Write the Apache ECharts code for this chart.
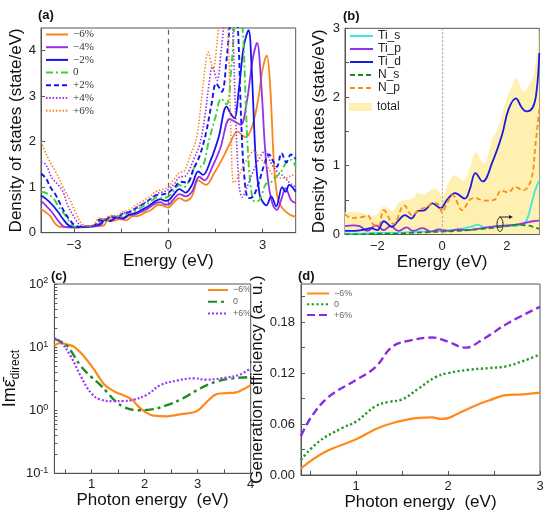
<!DOCTYPE html>
<html>
<head>
<meta charset="utf-8">
<script src="https://cdn.jsdelivr.net/npm/echarts@6/dist/echarts.min.js"></script>
<style>
html, body { margin: 0; padding: 0; background: #fff; }
#chart { width: 550px; height: 519px; }
</style>
</head>
<body>
<div id="chart"></div>
<script>
// (a) total DOS under strain, [energy, dos]
const aM6 = [[-4.05,0.52],[-3.9,0.45],[-3.75,0.36],[-3.6,0.2],[-3.45,0.13],[-3.2,0.12],[-2.9,0.12],[-2.6,0.13],[-2.3,0.14],[-2.05,0.16],[-1.9,0.33],[-1.75,0.26],[-1.55,0.3],[-1.35,0.27],[-1.15,0.36],[-0.95,0.37],[-0.75,0.44],[-0.55,0.5],[-0.3,0.62],[-0.15,0.59],[0,0.55],[0.15,0.65],[0.35,0.76],[0.55,0.7],[0.75,0.8],[0.95,1.15],[1.2,1.05],[1.45,1.3],[1.7,1.6],[1.95,1.95],[2.2,2.22],[2.45,2.1],[2.65,2.3],[2.85,2.9],[3.0,3.6],[3.13,3.9],[3.24,3.2],[3.36,1.5],[3.48,0.75],[3.65,0.52],[3.85,0.4],[4.05,0.35]];
const aM4 = [[-4.05,0.7],[-3.9,0.6],[-3.7,0.45],[-3.5,0.26],[-3.3,0.13],[-3.0,0.12],[-2.7,0.13],[-2.4,0.14],[-2.15,0.17],[-2.0,0.3],[-1.85,0.25],[-1.65,0.33],[-1.45,0.3],[-1.25,0.38],[-1.05,0.4],[-0.85,0.46],[-0.65,0.53],[-0.4,0.65],[-0.25,0.67],[-0.1,0.62],[0,0.62],[0.15,0.72],[0.35,0.85],[0.55,0.8],[0.75,0.9],[0.98,1.23],[1.15,1.15],[1.4,1.45],[1.65,1.85],[1.95,2.5],[2.1,2.45],[2.3,2.37],[2.5,2.9],[2.68,3.8],[2.82,4.17],[2.95,3.3],[3.08,1.8],[3.2,1.0],[3.32,0.62],[3.45,0.5],[3.6,0.75],[3.73,0.98],[3.9,0.72],[4.05,0.65]];
const aM2 = [[-4.05,0.82],[-3.9,0.75],[-3.7,0.62],[-3.5,0.45],[-3.35,0.3],[-3.15,0.15],[-2.9,0.12],[-2.6,0.13],[-2.35,0.15],[-2.15,0.2],[-2.0,0.3],[-1.85,0.26],[-1.65,0.34],[-1.45,0.32],[-1.25,0.4],[-1.05,0.43],[-0.85,0.5],[-0.6,0.6],[-0.4,0.7],[-0.25,0.74],[-0.1,0.7],[0,0.71],[0.15,0.82],[0.35,0.96],[0.55,0.88],[0.75,1.05],[0.95,1.35],[1.1,1.27],[1.35,1.6],[1.6,2.1],[1.85,2.77],[2.0,2.6],[2.1,2.52],[2.25,3.2],[2.4,4.1],[2.55,4.45],[2.65,3.6],[2.78,1.6],[2.9,0.85],[3.0,0.68],[3.12,0.6],[3.27,0.8],[3.43,0.58],[3.62,1.0],[3.73,0.9],[3.84,1.05],[4.05,0.9]];
const aZ = [[-4.05,0.9],[-3.85,0.86],[-3.65,0.75],[-3.5,0.58],[-3.3,0.4],[-3.15,0.25],[-3.0,0.14],[-2.7,0.12],[-2.45,0.14],[-2.25,0.2],[-2.1,0.3],[-1.95,0.27],[-1.75,0.36],[-1.55,0.34],[-1.35,0.42],[-1.15,0.45],[-0.95,0.52],[-0.7,0.62],[-0.5,0.72],[-0.35,0.78],[-0.2,0.76],[0,0.8],[0.15,0.9],[0.35,1.05],[0.5,1.0],[0.7,1.2],[0.9,1.5],[1.05,1.45],[1.3,2.05],[1.5,2.55],[1.68,2.95],[1.85,2.82],[2.0,3.6],[2.12,4.7],[2.25,5.3],[2.38,4.3],[2.5,2.2],[2.62,1.0],[2.75,0.68],[2.9,0.72],[3.1,1.07],[3.25,1.1],[3.41,1.23],[3.55,1.3],[3.73,1.52],[3.9,1.6],[4.05,1.45]];
const aP2 = [[-4.05,1.3],[-3.9,1.2],[-3.75,1.0],[-3.6,0.85],[-3.45,0.65],[-3.3,0.45],[-3.1,0.25],[-2.9,0.14],[-2.6,0.13],[-2.35,0.16],[-2.2,0.28],[-2.05,0.25],[-1.85,0.35],[-1.65,0.33],[-1.45,0.42],[-1.25,0.45],[-1.05,0.53],[-0.8,0.63],[-0.55,0.75],[-0.4,0.82],[-0.2,0.84],[0,0.88],[0.2,1.0],[0.4,1.12],[0.6,1.1],[0.8,1.4],[1.0,1.7],[1.2,2.2],[1.38,2.85],[1.52,3.28],[1.7,3.1],[1.85,3.8],[1.97,4.7],[2.1,5.5],[2.22,4.4],[2.32,2.4],[2.42,1.2],[2.55,0.76],[2.7,0.8],[2.9,1.15],[3.05,1.5],[3.2,1.72],[3.35,1.55],[3.45,1.45],[3.6,1.75],[3.75,1.55],[3.9,1.72],[4.05,1.62]];
const aP4 = [[-4.05,1.55],[-3.9,1.5],[-3.7,1.2],[-3.5,1.05],[-3.35,0.9],[-3.2,0.6],[-3.0,0.35],[-2.8,0.17],[-2.5,0.14],[-2.3,0.18],[-2.15,0.3],[-2.0,0.27],[-1.8,0.36],[-1.6,0.35],[-1.4,0.44],[-1.2,0.47],[-1.0,0.56],[-0.75,0.66],[-0.5,0.78],[-0.35,0.86],[-0.15,0.9],[0,0.95],[0.2,1.08],[0.35,1.22],[0.55,1.25],[0.8,1.6],[1.0,1.95],[1.15,2.5],[1.3,3.3],[1.4,3.65],[1.55,3.35],[1.68,4.0],[1.8,4.8],[1.93,5.6],[2.05,4.4],[2.15,2.4],[2.25,1.05],[2.35,0.78],[2.5,1.0],[2.7,1.35],[2.9,1.65],[3.08,1.8],[3.25,1.55],[3.45,1.35],[3.65,1.25],[3.85,1.1],[4.05,1.0]];
const aP6 = [[-4.05,2.0],[-3.9,1.75],[-3.72,1.5],[-3.55,1.3],[-3.35,1.0],[-3.15,0.75],[-2.95,0.45],[-2.75,0.2],[-2.5,0.15],[-2.35,0.2],[-2.2,0.32],[-2.05,0.29],[-1.85,0.38],[-1.65,0.37],[-1.45,0.46],[-1.25,0.5],[-1.05,0.6],[-0.8,0.7],[-0.55,0.82],[-0.4,0.9],[-0.2,0.95],[0,1.0],[0.15,1.15],[0.35,1.32],[0.5,1.35],[0.7,1.7],[0.9,2.1],[1.05,2.9],[1.18,3.7],[1.26,3.97],[1.42,3.6],[1.55,4.2],[1.68,5.2],[1.82,5.6],[1.92,4.0],[2.0,2.0],[2.08,1.1],[2.2,1.2],[2.4,1.5],[2.55,1.65],[2.72,1.81],[2.9,1.65],[3.1,1.5],[3.4,1.23],[3.7,1.2],[3.9,1.25],[4.05,1.3]];
const aLabels = ['−6%', '−4%', '−2%', '0', '+2%', '+4%', '+6%'];

// (b) projected DOS
const bTiS = [[-3.0,0.01],[-2.5,0.01],[-2.0,0.02],[-1.5,0.02],[-1.0,0.03],[-0.5,0.04],[0,0.05],[0.3,0.06],[0.6,0.08],[0.9,0.11],[1.1,0.14],[1.3,0.1],[1.6,0.11],[1.9,0.12],[2.2,0.12],[2.45,0.14],[2.55,0.16],[2.65,0.25],[2.78,0.48],[2.9,0.68],[3.0,0.78]];
const bTiP = [[-3.0,0.12],[-2.75,0.13],[-2.55,0.12],[-2.3,0.05],[-2.05,0.13],[-1.8,0.06],[-1.6,0.12],[-1.35,0.05],[-1.1,0.1],[-0.9,0.05],[-0.6,0.09],[-0.35,0.04],[-0.1,0.07],[0.2,0.05],[0.5,0.07],[0.8,0.06],[1.1,0.08],[1.4,0.1],[1.7,0.12],[2.0,0.13],[2.3,0.14],[2.6,0.17],[2.8,0.19],[3.0,0.2]];
const bTiD = [[-3.0,0.05],[-2.7,0.05],[-2.4,0.07],[-2.2,0.09],[-2.0,0.06],[-1.8,0.19],[-1.55,0.11],[-1.35,0.2],[-1.15,0.28],[-0.95,0.23],[-0.75,0.34],[-0.55,0.35],[-0.3,0.45],[-0.05,0.38],[0.15,0.5],[0.4,0.6],[0.7,0.52],[0.85,0.65],[1.03,0.89],[1.25,0.77],[1.55,1.05],[1.85,1.45],[2.05,1.82],[2.28,1.98],[2.45,1.85],[2.6,1.79],[2.8,1.85],[2.92,2.1],[3.0,2.64]];
const bNS = [[-3.0,0.0],[-2.5,0.0],[-2.0,0.01],[-1.5,0.01],[-1.0,0.02],[-0.5,0.03],[0,0.04],[0.5,0.05],[1.0,0.07],[1.5,0.09],[2.0,0.12],[2.3,0.14],[2.6,0.13],[2.8,0.11],[3.0,0.08]];
const bNP = [[-3.0,0.29],[-2.8,0.24],[-2.5,0.25],[-2.3,0.27],[-2.12,0.14],[-1.98,0.12],[-1.8,0.35],[-1.5,0.15],[-1.17,0.42],[-0.93,0.28],[-0.7,0.36],[-0.45,0.4],[-0.3,0.46],[-0.1,0.43],[0,0.32],[0.15,0.45],[0.32,0.57],[0.62,0.35],[0.85,0.5],[1.0,0.53],[1.3,0.49],[1.6,0.5],[1.83,0.64],[2.04,0.61],[2.25,0.69],[2.5,0.64],[2.75,0.8],[2.88,1.3],[3.0,1.82]];
const bTotal = [[-3.0,0.32],[-2.7,0.33],[-2.4,0.3],[-2.2,0.26],[-2.0,0.3],[-1.8,0.4],[-1.55,0.34],[-1.3,0.48],[-1.1,0.5],[-0.9,0.52],[-0.75,0.6],[-0.55,0.58],[-0.4,0.63],[-0.2,0.67],[0,0.56],[0.2,0.75],[0.38,0.86],[0.65,0.78],[0.85,0.95],[1.04,1.19],[1.28,1.03],[1.55,1.38],[1.72,1.54],[1.98,1.96],[2.14,2.13],[2.3,2.27],[2.5,2.08],[2.72,2.2],[2.87,2.44],[3.0,3.0]];

// (c) imaginary dielectric function, log scale
const cM6 = [[0.3,10.5],[0.4,11.6],[0.55,11.0],[0.68,10.0],[0.86,7.1],[1.05,4.4],[1.24,2.55],[1.42,2.0],[1.6,1.72],[1.75,1.5],[1.88,1.15],[1.98,0.98],[2.17,0.82],[2.42,0.8],[2.67,0.86],[2.98,0.96],[3.17,1.35],[3.36,1.8],[3.55,1.87],[3.7,1.9],[3.85,2.12],[4.0,2.5]];
const cZ = [[0.3,13.4],[0.4,12.5],[0.55,10.2],[0.8,5.0],[0.99,3.4],[1.17,2.5],[1.3,1.9],[1.42,1.47],[1.61,1.12],[1.86,1.0],[2.1,1.02],[2.42,1.2],[2.73,1.55],[3.04,2.2],[3.36,2.85],[3.67,3.2],[3.85,3.3],[4.0,3.35]];
const cP6 = [[0.3,13.9],[0.43,11.8],[0.61,7.1],[0.8,3.44],[0.99,1.88],[1.17,1.47],[1.42,1.39],[1.6,1.4],[1.8,1.47],[2.05,1.77],[2.3,2.5],[2.61,2.95],[2.92,3.2],[3.17,3.05],[3.54,3.3],[3.79,3.66],[4.0,4.6]];

// (d) generation efficiency
const dM6 = [[0.4,0.0078],[0.66,0.027],[1.0,0.042],[1.21,0.054],[1.39,0.061],[1.65,0.067],[1.83,0.068],[1.92,0.066],[2.0,0.067],[2.12,0.073],[2.3,0.082],[2.45,0.088],[2.63,0.094],[2.81,0.095],[3.0,0.097]];
const dZ = [[0.4,0.018],[0.59,0.039],[0.84,0.055],[1.0,0.063],[1.21,0.081],[1.35,0.086],[1.5,0.089],[1.68,0.102],[1.86,0.115],[2.0,0.12],[2.23,0.124],[2.45,0.126],[2.63,0.128],[2.81,0.134],[3.0,0.142]];
const dP6 = [[0.4,0.046],[0.51,0.068],[0.7,0.092],[1.0,0.112],[1.21,0.127],[1.39,0.151],[1.57,0.158],[1.83,0.162],[2.0,0.157],[2.19,0.15],[2.38,0.16],[2.67,0.18],[3.0,0.198]];

// tick labels
const aXLabels = [-3, 0, 3];
const bXLabels = [-2, 0, 2];
const cXLabels = [1, 2, 3, 4];
const dXLabels = [1, 2, 3];
const dYLabels = [0, 0.06, 0.12, 0.18];
const cYLabels = [0.1, 1, 10, 100];

const FONT = 'Liberation Sans, Arial, sans-serif';
const AXIS_COLOR = '#555';
const minus = v => (v < 0 ? '−' + Math.abs(v) : String(v));
const strip = n => n.split('#')[1];

const ORANGE = '#fb8419';
const PURPLE = '#9632e8';
const BLUE = '#1414f0';
const LIME = '#36d636';
const DKGREEN = '#1f8c1f';

function valueAxis(gi, o) {
    return Object.assign({
        gridIndex: gi,
        type: 'value',
        nameLocation: 'middle',
        nameTextStyle: { fontSize: 17, color: '#111', fontFamily: FONT },
        axisLine: { show: true, onZero: false, lineStyle: { color: AXIS_COLOR, width: 1 } },
        axisTick: { show: true, inside: true, length: 4, lineStyle: { color: AXIS_COLOR } },
        axisLabel: { fontSize: 13, color: '#222', fontFamily: FONT, margin: 6, formatter: minus },
        splitLine: { show: false }
    }, o);
}

function line(name, data, gi, color, type, width, smooth) {
    return {
        name: name,
        type: 'line',
        xAxisIndex: gi,
        yAxisIndex: gi,
        data: data,
        showSymbol: false,
        symbol: 'none',
        smooth: smooth,
        clip: true,
        lineStyle: { color: color, type: type, width: width },
        itemStyle: { color: color },
        z: 3
    };
}

const vline = (color, type) => ({
    silent: true,
    symbol: 'none',
    label: { show: false },
    lineStyle: { color: color, type: type, width: 1.2 },
    data: [{ xAxis: 0 }]
});

const aSeries = [
    line('a#' + aLabels[0], aM6, 0, ORANGE, 'solid', 1.8, 0.35),
    line('a#' + aLabels[1], aM4, 0, PURPLE, 'solid', 1.8, 0.35),
    line('a#' + aLabels[2], aM2, 0, BLUE, 'solid', 1.8, 0.35),
    line('a#' + aLabels[3], aZ, 0, LIME, [7, 3, 2, 3], 1.9, 0.35),
    line('a#' + aLabels[4], aP2, 0, BLUE, [5, 3], 1.9, 0.35),
    line('a#' + aLabels[5], aP4, 0, PURPLE, [1.5, 1.8], 1.6, 0.35),
    line('a#' + aLabels[6], aP6, 0, ORANGE, [1.5, 1.8], 1.5, 0.35)
];
aSeries[0].markLine = vline('#666', [5, 4]);

const total = line('b#total', bTotal, 1, '#fdf0b0', 'solid', 0, 0.4);
total.areaStyle = { color: '#fdf0b0', opacity: 1 };
total.z = 1;
const bSeries = [
    total,
    line('b#Ti_s', bTiS, 1, '#3ee6e6', 'solid', 1.8, 0.4),
    line('b#Ti_p', bTiP, 1, PURPLE, 'solid', 1.8, 0.4),
    line('b#Ti_d', bTiD, 1, '#1a1ae0', 'solid', 1.8, 0.4),
    line('b#N_s', bNS, 1, DKGREEN, [5, 3], 1.8, 0.4),
    line('b#N_p', bNP, 1, '#ff8a1c', [5, 3], 1.8, 0.4)
];
bSeries[1].markLine = vline('#aaa', [2, 2]);

const cSeries = [
    line('c#−6%', cM6, 2, '#ff8a1a', 'solid', 2.2, 0.4),
    line('c#0', cZ, 2, DKGREEN, [9, 4, 3, 4], 2.4, 0.4),
    line('c#+6%', cP6, 2, '#9933ff', [2, 2], 2.2, 0.4)
];
const dSeries = [
    line('d#−6%', dM6, 3, '#ff8a1a', 'solid', 2.2, 0.4),
    line('d#0', dZ, 3, '#229922', [2.2, 2.5], 2.4, 0.4),
    line('d#+6%', dP6, 3, '#8a2be2', [8, 4], 2.4, 0.4)
];

const legendBase = {
    orient: 'vertical',
    padding: 0,
    itemGap: 2,
    formatter: strip,
    selectedMode: false,
    itemStyle: { opacity: 0 }
};

const option = {
    animation: false,
    backgroundColor: '#fff',
    textStyle: { fontFamily: FONT },
    grid: [
        { left: 41, top: 28, width: 254.7, height: 204.7, show: true, borderColor: AXIS_COLOR, borderWidth: 1, containLabel: false },
        { left: 345, top: 28.3, width: 194.3, height: 206, show: true, borderColor: AXIS_COLOR, borderWidth: 1, containLabel: false },
        { left: 52.7, top: 284, width: 198, height: 189.3, show: true, borderColor: AXIS_COLOR, borderWidth: 1, containLabel: false },
        { left: 301, top: 284, width: 239, height: 191, show: true, borderColor: AXIS_COLOR, borderWidth: 1, containLabel: false }
    ],
    xAxis: [
        valueAxis(0, {
            min: -4.05, max: 4.05, name: 'Energy (eV)', nameGap: 18,
            axisTick: { show: true, inside: true, length: 4, lineStyle: { color: AXIS_COLOR }, customValues: [-3, -1.5, 0, 1.5, 3] },
            axisLabel: { fontSize: 13, color: '#222', fontFamily: FONT, margin: 6, formatter: minus, customValues: aXLabels }
        }),
        valueAxis(1, {
            min: -3, max: 3, name: 'Energy (eV)', nameGap: 18,
            axisTick: { show: true, inside: true, length: 4, lineStyle: { color: AXIS_COLOR }, customValues: [-3, -2, -1, 0, 1, 2, 3] },
            axisLabel: { fontSize: 13, color: '#222', fontFamily: FONT, margin: 6, formatter: minus, customValues: bXLabels }
        }),
        valueAxis(2, {
            min: 0.3, max: 4, name: 'Photon energy  (eV)', nameGap: 16,
            axisTick: { show: true, inside: true, length: 4, lineStyle: { color: AXIS_COLOR }, customValues: [0.5, 1, 1.5, 2, 2.5, 3, 3.5, 4] },
            axisLabel: { fontSize: 13, color: '#222', fontFamily: FONT, margin: 5, formatter: minus, customValues: cXLabels }
        }),
        valueAxis(3, {
            min: 0.4, max: 3, name: 'Photon energy  (eV)', nameGap: 14,
            axisTick: { show: true, inside: true, length: 4, lineStyle: { color: AXIS_COLOR }, customValues: [0.5, 1, 1.5, 2, 2.5, 3] },
            axisLabel: { fontSize: 13, color: '#222', fontFamily: FONT, margin: 5, formatter: minus, customValues: dXLabels }
        })
    ],
    yAxis: [
        valueAxis(0, {
            min: 0, max: 4.5, name: 'Density of states (state/eV)', nameGap: 16, nameRotate: 90,
            axisTick: { show: true, inside: true, length: 4, lineStyle: { color: AXIS_COLOR }, customValues: [0, 1, 2, 3, 4] },
            axisLabel: { fontSize: 13, color: '#222', fontFamily: FONT, margin: 5, customValues: [0, 1, 2, 3, 4] }
        }),
        valueAxis(1, {
            min: 0, max: 3, name: 'Density of states (state/eV)', nameGap: 17, nameRotate: 90,
            axisTick: { show: true, inside: true, length: 4, lineStyle: { color: AXIS_COLOR }, customValues: [0, 0.5, 1, 1.5, 2, 2.5, 3] },
            axisLabel: { fontSize: 13, color: '#222', fontFamily: FONT, margin: 5, customValues: [0, 1, 2, 3] }
        }),
        {
            gridIndex: 2,
            type: 'log',
            logBase: 10,
            min: 0.1,
            max: 100,
            name: '{n|Imε̄}{s|direct}',
            nameLocation: 'middle',
            nameGap: 27,
            nameRotate: 90,
            nameTextStyle: {
                color: '#111',
                fontFamily: FONT,
                rich: {
                    n: { fontSize: 18, fontFamily: FONT, color: '#111', verticalAlign: 'bottom', lineHeight: 22 },
                    s: { fontSize: 12, fontFamily: FONT, color: '#111', verticalAlign: 'bottom', lineHeight: 16, padding: [0, 0, -3, 0] }
                }
            },
            axisLine: { show: true, onZero: false, lineStyle: { color: AXIS_COLOR } },
            axisTick: {
                show: true, inside: true, length: 3, lineStyle: { color: AXIS_COLOR },
                customValues: [0.1, 0.2, 0.3, 0.4, 0.5, 0.6, 0.7, 0.8, 0.9, 1, 2, 3, 4, 5, 6, 7, 8, 9, 10, 20, 30, 40, 50, 60, 70, 80, 90, 100]
            },
            axisLabel: {
                color: '#222', fontFamily: FONT, margin: 6,
                customValues: cYLabels,
                formatter: v => '{b|10}{p|' + Math.round(Math.log10(v)) + '}',
                rich: {
                    b: { fontSize: 13, fontFamily: FONT, color: '#222' },
                    p: { fontSize: 9, fontFamily: FONT, color: '#222', verticalAlign: 'top', padding: [0, 0, 6, 0] }
                }
            },
            splitLine: { show: false }
        },
        valueAxis(3, {
            min: 0, max: 0.225, name: 'Generation efficiency (a. u.)', nameGap: 30, nameRotate: 90,
            axisTick: { show: true, inside: true, length: 4, lineStyle: { color: AXIS_COLOR }, customValues: [0, 0.03, 0.06, 0.09, 0.12, 0.15, 0.18, 0.21] },
            axisLabel: { fontSize: 13, color: '#222', fontFamily: FONT, margin: 6, customValues: dYLabels, formatter: v => v.toFixed(2) }
        })
    ],
    legend: [
        Object.assign({}, legendBase, {
            left: 45, top: 29, itemWidth: 22, itemHeight: 10, itemGap: 1.7,
            data: aLabels.map(l => 'a#' + l),
            textStyle: { fontSize: 11, color: '#333', fontFamily: 'Liberation Serif, Times New Roman, serif' }
        }),
        Object.assign({}, legendBase, {
            left: 349, top: 30, itemWidth: 23, itemHeight: 10, itemGap: 1,
            data: ['b#Ti_s', 'b#Ti_p', 'b#Ti_d', 'b#N_s', 'b#N_p'],
            textStyle: { fontSize: 12, color: '#222', fontFamily: FONT }
        }),
        Object.assign({}, legendBase, {
            left: 349, top: 101, itemWidth: 23, itemHeight: 8,
            data: [{ name: 'b#total', icon: 'rect', itemStyle: { color: '#fdf0b0', opacity: 1 } }],
            textStyle: { fontSize: 12, color: '#222', fontFamily: FONT }
        }),
        Object.assign({}, legendBase, {
            left: 207, top: 285.5, itemWidth: 20, itemHeight: 8, itemGap: 2.7,
            data: ['c#−6%', 'c#0', 'c#+6%'],
            textStyle: { fontSize: 9, color: '#666', fontFamily: FONT }
        }),
        Object.assign({}, legendBase, {
            left: 306, top: 289, itemWidth: 22, itemHeight: 8, itemGap: 1.8,
            data: ['d#−6%', 'd#0', 'd#+6%'],
            textStyle: { fontSize: 9, color: '#666', fontFamily: FONT }
        })
    ],
    graphic: [
        { type: 'text', left: 38, top: 9, style: { text: '(a)', font: 'bold 13px ' + FONT, fill: '#111' } },
        { type: 'text', left: 343, top: 10, style: { text: '(b)', font: 'bold 13px ' + FONT, fill: '#111' } },
        { type: 'text', left: 51, top: 270, style: { text: '(c)', font: 'bold 13px ' + FONT, fill: '#111' } },
        { type: 'text', left: 298, top: 270, style: { text: '(d)', font: 'bold 13px ' + FONT, fill: '#111' } },
        { type: 'text', left: 512, top: 171, style: { text: '×5', font: '10px ' + FONT, fill: '#333' } },
        { type: 'text', left: 514, top: 211, style: { text: '×20', font: '10px ' + FONT, fill: '#333' } },
        { type: 'line', shape: { x1: 499, y1: 217, x2: 510, y2: 217 }, style: { stroke: '#222', lineWidth: 1 }, z: 10 },
        { type: 'polygon', shape: { points: [[509, 215], [513, 217], [509, 219]] }, style: { fill: '#222' }, z: 10 },
        { type: 'ellipse', shape: { cx: 500, cy: 224.5, rx: 3, ry: 7 }, style: { fill: 'none', stroke: '#222', lineWidth: 1 }, z: 10 }
    ],
    series: [].concat(aSeries, bSeries, cSeries, dSeries)
};

const chart = echarts.init(document.getElementById('chart'), null, { renderer: 'canvas' });
chart.setOption(option);
</script>
</body>
</html>
